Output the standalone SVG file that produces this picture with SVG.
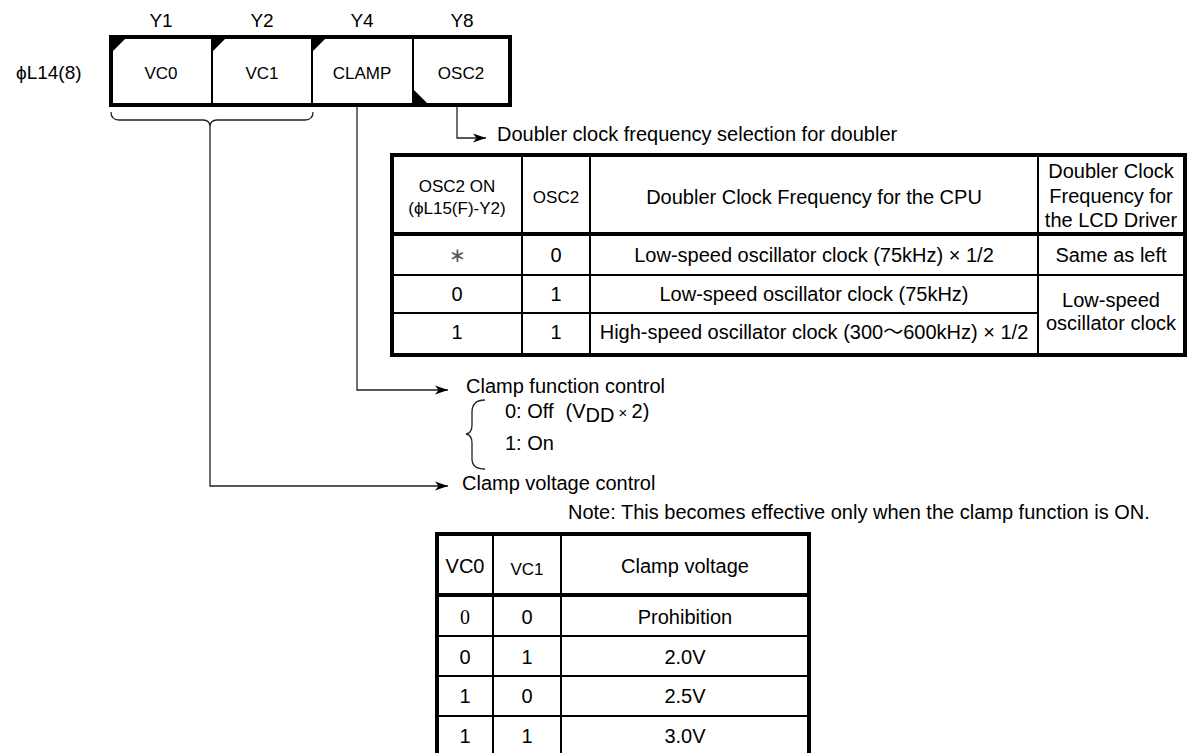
<svg xmlns="http://www.w3.org/2000/svg" width="1190" height="753" viewBox="0 0 1190 753">
<style>
text{font-family:"Liberation Sans",Arial,sans-serif;fill:#000;}
.t20{font-size:20px;}
.t19{font-size:19px;}
.t17{font-size:17px;}
.c{text-anchor:middle;}
.thick{stroke:#000;stroke-width:4;fill:none;}
.thin{stroke:#000;stroke-width:2;fill:none;}
.con{stroke:#222;stroke-width:1.3;fill:none;}
.tri{fill:#000;stroke:none;}
</style>
<defs>
<marker id="arr" markerUnits="userSpaceOnUse" markerWidth="14" markerHeight="10" refX="13" refY="5" orient="auto">
<path d="M0,0.5 L13,5 L0,9.5 L3.5,5 z" fill="#000"/>
</marker>
</defs>
<rect width="1190" height="753" fill="#fff"/>

<g id="bit-labels">
<text class="t19 c" x="161" y="27">Y1</text>
<text class="t19 c" x="262" y="27">Y2</text>
<text class="t19 c" x="362" y="27">Y4</text>
<text class="t19 c" x="462" y="27">Y8</text>
<text class="t19" x="16" y="79">ϕL14(8)</text>
</g>

<g id="register">
<line class="thin" x1="212" y1="37" x2="212" y2="105"/>
<line class="thin" x1="312" y1="37" x2="312" y2="105"/>
<line class="thin" x1="413" y1="37" x2="413" y2="105"/>
<rect class="thick" x="111" y="37" width="399" height="68"/>
<path class="tri" d="M113,39 L125,39 L113,51 z"/>
<path class="tri" d="M213,39 L225,39 L213,51 z"/>
<path class="tri" d="M313,39 L325,39 L313,51 z"/>
<path class="tri" d="M414,103 L414,90 L427,103 z"/>
<text class="t17 c" x="161" y="79">VC0</text>
<text class="t17 c" x="262" y="79">VC1</text>
<text class="t17 c" x="362" y="79">CLAMP</text>
<text class="t17 c" x="461" y="79">OSC2</text>
</g>

<g id="connectors">
<path class="con" d="M111,112 Q111,120 119,120 L203,120 Q210,120 210,127 Q210,120 217,120 L305,120 Q313,120 313,112"/>
<path class="con" d="M457,107 V138 H486" marker-end="url(#arr)"/>
<path class="con" d="M357,107 V390 H448" marker-end="url(#arr)"/>
<path class="con" d="M210,127 V486 H448" marker-end="url(#arr)"/>
<path class="con" d="M485,400 Q472,400 472,412 L472,425 Q472,433 466,434 Q472,435 472,443 L472,459 Q472,469 485,469"/>
</g>

<g id="label-osc2">
<text class="t20" x="497" y="141">Doubler clock frequency selection for doubler</text>
</g>

<g id="table-osc2">
<line class="thin" x1="522" y1="155" x2="522" y2="355"/>
<line class="thin" x1="590" y1="155" x2="590" y2="355"/>
<line class="thin" x1="1038" y1="155" x2="1038" y2="355"/>
<line class="thick" x1="392" y1="234" x2="1185" y2="234"/>
<line class="thin" x1="392" y1="275" x2="1185" y2="275"/>
<line class="thin" x1="392" y1="313" x2="1038" y2="313"/>
<rect class="thick" x="392" y="155" width="793" height="200"/>
<text class="t17 c" x="457" y="192">OSC2 ON</text>
<text class="t17 c" x="457" y="214">(ϕL15(F)-Y2)</text>
<text class="t17 c" x="556" y="203">OSC2</text>
<text class="t20 c" x="814" y="204">Doubler Clock Frequency for the CPU</text>
<text class="t20 c" x="1111" y="178">Doubler Clock</text>
<text class="t20 c" x="1111" y="203">Frequency for</text>
<text class="t20 c" x="1111" y="227">the LCD Driver</text>
<text class="t20 c" x="457" y="262" style="fill:#555">∗</text>
<text class="t20 c" x="556" y="262">0</text>
<text class="t20 c" x="814" y="262">Low-speed oscillator clock (75kHz) × 1/2</text>
<text class="t20 c" x="1111" y="262">Same as left</text>
<text class="t20 c" x="457" y="301">0</text>
<text class="t20 c" x="556" y="301">1</text>
<text class="t20 c" x="814" y="301">Low-speed oscillator clock (75kHz)</text>
<text class="t20 c" x="1111" y="307">Low-speed</text>
<text class="t20 c" x="1111" y="330">oscillator clock</text>
<text class="t20 c" x="457" y="339">1</text>
<text class="t20 c" x="556" y="339">1</text>
<text class="t20 c" x="814" y="339">High-speed oscillator clock (300<tspan font-family="'Noto Sans CJK JP',sans-serif">～</tspan>600kHz) × 1/2</text>
</g>

<g id="label-clamp">
<text class="t20" x="466" y="393">Clamp function control</text>
<text class="t20" x="505" y="418">0: Off<tspan dx="12">(</tspan>V<tspan dy="4">DD</tspan><tspan dy="-4" font-size="15"> × </tspan>2)</text>
<text class="t20" x="505" y="450">1: On</text>
</g>

<g id="label-vc">
<text class="t20" x="462" y="490">Clamp voltage control</text>
<text class="t20" x="568" y="519">Note: This becomes effective only when the clamp function is ON.</text>
</g>

<g id="table-vc">
<line class="thin" x1="493" y1="534" x2="493" y2="760"/>
<line class="thin" x1="561" y1="534" x2="561" y2="760"/>
<line class="thick" x1="437" y1="595" x2="809" y2="595"/>
<line class="thin" x1="437" y1="636" x2="809" y2="636"/>
<line class="thin" x1="437" y1="676" x2="809" y2="676"/>
<line class="thin" x1="437" y1="716" x2="809" y2="716"/>
<rect class="thick" x="437" y="534" width="372" height="226"/>
<text class="t20 c" x="465" y="573">VC0</text>
<text class="t17 c" x="527" y="575">VC1</text>
<text class="t20 c" x="685" y="573">Clamp voltage</text>
<text class="t20 c" x="465" y="624" style="font-family:'Liberation Serif',serif">0</text>
<text class="t20 c" x="527" y="624">0</text>
<text class="t20 c" x="685" y="624">Prohibition</text>
<text class="t20 c" x="465" y="664">0</text>
<text class="t20 c" x="527" y="664">1</text>
<text class="t20 c" x="685" y="664">2.0V</text>
<text class="t20 c" x="465" y="703">1</text>
<text class="t20 c" x="527" y="703">0</text>
<text class="t20 c" x="685" y="703">2.5V</text>
<text class="t20 c" x="465" y="743">1</text>
<text class="t20 c" x="527" y="743">1</text>
<text class="t20 c" x="685" y="743">3.0V</text>
</g>
</svg>
